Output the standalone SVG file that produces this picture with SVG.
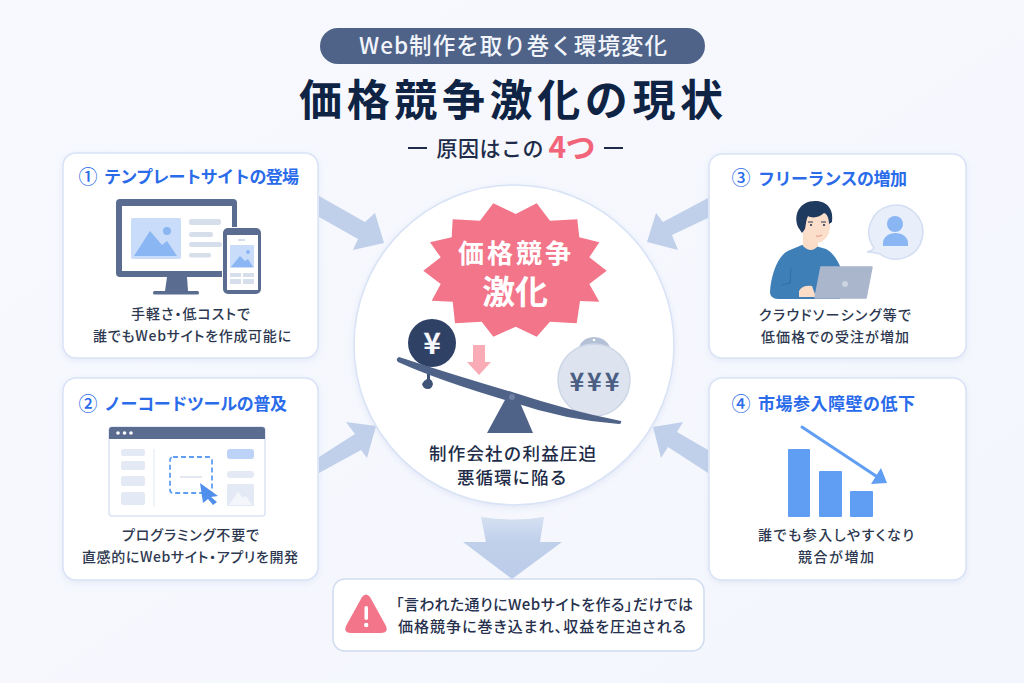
<svg xmlns="http://www.w3.org/2000/svg" width="1024" height="683" viewBox="0 0 1024 683">
<style>
text{font-family:"Noto Sans CJK JP","Noto Sans",sans-serif;text-anchor:middle}
.card{fill:#fff;stroke:#d9e3f6;stroke-width:1.5;filter:url(#sh)}
.h{font-size:17px;font-weight:700;fill:#2a6bea}
.n{font-size:19px;font-weight:500;fill:#2a6bea}
.d{font-size:14px;font-weight:500;fill:#2d3850;font-feature-settings:"palt"}
.c{font-size:17.5px;font-weight:500;fill:#222c48}
.w{font-size:15px;font-weight:500;fill:#262f4c;font-feature-settings:"palt"}
.ar{fill:#c0d0ea}
.slate{fill:#5a6d90}
.lb{fill:#c9dcfa}
.mb{fill:#8ab6f3}
.gl{fill:#d6deeb}
.pl{fill:#e4eaf5}
.bar{fill:#5f9ef2}
</style>
<defs>
<linearGradient id="bg" x1="0" y1="0" x2="1" y2="1"><stop offset="0" stop-color="#f7f9fe"/><stop offset="1" stop-color="#f4f6fd"/></linearGradient>
<linearGradient id="da" x1="0" y1="0" x2="0" y2="1"><stop offset="0" stop-color="#d6e0f2"/><stop offset=".4" stop-color="#c0d0ea"/><stop offset="1" stop-color="#bccdea"/></linearGradient>
<filter id="sh" x="-10%" y="-10%" width="120%" height="125%"><feDropShadow dx="0" dy="2" stdDeviation="3" flood-color="#b8c6e4" flood-opacity=".3"/></filter>
</defs>
<rect width="1024" height="683" fill="url(#bg)"/>

<g id="header">
<rect x="320" y="28" width="385" height="36" rx="18" fill="#4f6389"/>
<text x="513" y="54" font-size="22.5" font-weight="500" fill="#f2f5fb" textLength="308">Web制作を取り巻く環境変化</text>
<text x="511" y="116" font-size="43" font-weight="700" fill="#0f2444" textLength="424">価格競争激化の現状</text>
<rect x="408" y="147" width="19" height="2" fill="#1e2c4a"/>
<text x="490" y="156" font-size="21" font-weight="500" fill="#1e2c4a" textLength="107">原因はこの</text>
<text x="572" y="158" font-size="30" font-weight="700" fill="#f2647a" textLength="47">4つ</text>
<rect x="604" y="147" width="19" height="2" fill="#1e2c4a"/>
</g>

<g id="connectors">
<polygon class="ar" points="319,196 365,222 375,213 384,243 353,250 358,239 319,217"/>
<polygon class="ar" points="319,457 355,434 346,422 376,426 367,458 361,450 319,473"/>
<polygon class="ar" points="708,198 663,222 656,213 647,242 678,250 672,235 708,218"/>
<polygon class="ar" points="708,450 677,432 683,422 653,427 661,458 668,447 708,473"/>
<path fill="url(#da)" d="M481,517Q512,522 544,517L540,542H562L512,579L463,542H486Z"/>
</g>

<g id="card1">
<rect class="card" x="63" y="153" width="255" height="205" rx="13"/>
<text class="n" x="88" y="184">①</text>
<text class="h" x="201.500" y="183" textLength="195">テンプレートサイトの登場</text>
<rect class="slate" x="116" y="199" width="121" height="78" rx="4"/>
<rect x="122" y="206" width="110" height="65" fill="#fff"/>
<polygon class="slate" points="167,277 187,277 188,291 165,291"/>
<rect class="slate" x="153" y="291" width="46" height="3.500" rx="1.500"/>
<rect class="lb" x="131" y="218" width="50" height="41" rx="2"/>
<circle class="mb" cx="167" cy="231" r="4"/>
<polygon class="mb" points="134,256 150,231 162,245 167,241 177,256"/>
<rect class="gl" x="189" y="219" width="32" height="6" rx="2.500"/>
<rect class="gl" x="189" y="232" width="24" height="5" rx="2.500"/>
<rect class="gl" x="189" y="242" width="33" height="5" rx="2.500"/>
<rect class="gl" x="189" y="253" width="22" height="4.500" rx="2.200"/>
<rect x="222" y="227" width="40" height="68" rx="6" fill="#fff"/>
<rect class="slate" x="223" y="228" width="38" height="66" rx="5"/>
<rect x="227" y="235" width="31" height="55" fill="#fff"/>
<rect class="gl" x="238" y="239" width="7" height="2"/>
<rect class="lb" x="230" y="245" width="24" height="23" rx="1"/>
<circle class="mb" cx="248" cy="252" r="2"/>
<polygon class="mb" points="231,267 240,256 245,261 248,259 253,267"/>
<rect class="gl" x="230" y="273" width="11" height="4"/>
<rect class="gl" x="243" y="273" width="11" height="4"/>
<rect class="gl" x="230" y="279" width="11" height="5"/>
<rect class="gl" x="243" y="279" width="11" height="5"/>
<text class="d" x="190.500" y="319" textLength="119">手軽さ・低コストで</text>
<text class="d" x="192" y="341" textLength="198">誰でもWebサイトを作成可能に</text>
</g>

<g id="card2">
<rect class="card" x="63" y="378" width="255" height="202" rx="13"/>
<text class="n" x="88" y="411">②</text>
<text class="h" x="195.500" y="410" textLength="183">ノーコードツールの普及</text>
<rect x="109" y="427" width="156" height="89" rx="3" fill="#fff" stroke="#dbe3f3" stroke-width="1.500"/>
<path class="slate" d="M109,439V430a3,3 0 0 1 3-3H262a3,3 0 0 1 3,3V439Z"/>
<circle cx="118" cy="433" r="1.800" fill="#fff"/><circle cx="124.500" cy="433" r="1.800" fill="#fff"/><circle cx="131" cy="433" r="1.800" fill="#fff"/>
<rect class="pl" x="121" y="449" width="24" height="7" rx="2"/>
<rect class="pl" x="121" y="461" width="24" height="9" rx="2"/>
<rect class="pl" x="121" y="476" width="24" height="10" rx="2"/>
<rect class="pl" x="121" y="492" width="24" height="13" rx="2"/>
<line x1="154" y1="449" x2="154" y2="506" stroke="#e6ebf5" stroke-width="1.200"/>
<rect x="170" y="457" width="42" height="36" rx="3" fill="none" stroke="#5f9ef2" stroke-width="1.800" stroke-dasharray="5 3"/>
<line x1="180" y1="477" x2="202" y2="477" stroke="#d0d7e4" stroke-width="1.200"/>
<polygon fill="#5090ec" points="200,483 218,496 211,497 217,502 213,505 208,499 203,503"/>
<rect x="227" y="449" width="27" height="10" rx="3" fill="#bcd3f7"/>
<rect class="pl" x="227" y="471" width="27" height="7" rx="3"/>
<rect class="pl" x="227" y="484" width="27" height="22" rx="1"/>
<polygon points="229,505 238,492 243,498 246,496 252,505" fill="#f4f6fb"/>
<text class="d" x="190.500" y="540" textLength="137">プログラミング不要で</text>
<text class="d" x="190" y="562" textLength="216">直感的にWebサイト・アプリを開発</text>
</g>

<g id="card3">
<rect class="card" x="709" y="154" width="257" height="204" rx="13"/>
<text class="n" x="741" y="185">③</text>
<text class="h" x="832.500" y="185" textLength="149">フリーランスの増加</text>
<path fill="#3f7fb8" d="M770,292C771,275 778,254 790,250L802,245H812L826,249C834,253 838,262 842,270L840,299H778C773,299 770,296 770,292Z"/>
<path d="M782,285L790,283M791,268L790,284" stroke="#2f6aa0" stroke-width=".8" fill="none"/>
<path fill="#fadcc7" d="M803,232H818V246Q811,254 803,246Z"/>
<ellipse cx="816" cy="226" rx="14" ry="17" fill="#fbdfcb"/>
<path fill="#1f3a5f" d="M798,227C793,214 800,201 815,201C826,201 834,208 832,222L829,224C829,218 827,214 824,213C820,217 813,219 808,216C806,220 806,224 805,229L802,233Z"/>
<path d="M808,222H813M821,222H826" stroke="#2a3550" stroke-width="1"/>
<circle cx="811" cy="225" r="1.100" fill="#2a3550"/><circle cx="824" cy="225" r="1.100" fill="#2a3550"/>
<path d="M816,236Q819,237 822,235" stroke="#e89a80" stroke-width="1" fill="none"/>
<path fill="#fadcc7" d="M799,291Q802,285 812,286L816,297H799Z"/>
<polygon fill="#aab6cc" stroke="#aab6cc" stroke-width="1.500" stroke-linejoin="round" points="821,267 872,267 866,298 815,298"/>
<circle cx="845" cy="284" r="3" fill="#ccd4e2"/>
<path fill="#e8eefa" stroke="#d3def3" stroke-width="1.500" d="M874,248A27,27 0 1 1 880,254Q873,252 867,252Q872,251 874,248Z"/>
<circle class="mb" cx="895" cy="224" r="8"/>
<path class="mb" d="M883,246V243C883,237 889,233 895.500,233C902,233 908,237 908,243V246Z"/>
<text class="d" x="835" y="320" textLength="152">クラウドソーシング等で</text>
<text class="d" x="835" y="342" textLength="148">低価格での受注が増加</text>
</g>

<g id="card4">
<rect class="card" x="709" y="378" width="257" height="202" rx="13"/>
<text class="n" x="741" y="411">④</text>
<text class="h" x="836.500" y="410" textLength="157">市場参入障壁の低下</text>
<rect class="bar" x="788" y="449" width="22" height="68" rx="1"/>
<rect class="bar" x="819" y="471" width="23" height="46" rx="1"/>
<rect class="bar" x="850" y="491" width="23" height="26" rx="1"/>
<line x1="802" y1="427" x2="882" y2="480" stroke="#5f9ef2" stroke-width="3" stroke-linecap="round"/>
<polygon fill="#5f9ef2" points="881,468 887,483 871,484"/>
<text class="d" x="836" y="540" textLength="156">誰でも参入しやすくなり</text>
<text class="d" x="836" y="562" textLength="76">競合が増加</text>
</g>

<g id="center">
<circle cx="514" cy="345" r="160" fill="#fff" stroke="#d9e3f6" stroke-width="1.500" filter="url(#sh)"/>
<polygon fill="#f2758a" points="493.300,203.300 515.700,214 536.700,203.300 550,220.700 577.300,219.300 579.300,237.300 599.300,242.300 589.300,257.300 606.700,270.700 589.300,284 599.300,301.700 580,301 576.700,323.300 550,321.700 536.700,336.700 515.700,326.700 493.300,336.700 481.700,321.700 455,323.300 452.700,301.700 431.700,300.700 440.700,284 423.300,270.700 440.700,257.300 430,242.300 451.700,237.300 452.700,219.300 480,220.700"/>
<text x="514.500" y="263" font-size="26" font-weight="700" fill="#fff" textLength="113">価格競争</text>
<text x="515" y="304" font-size="33" font-weight="700" fill="#fff" textLength="66">激化</text>
<circle cx="432" cy="343" r="24" fill="#2f4266"/>
<text x="432" y="354" font-size="30" font-weight="700" fill="#f4f6fb">¥</text>
<polygon fill="#f9abb6" points="473,345 485,345 485,362 491,362 479,375 467,362 473,362"/>
<path fill="#3f5278" d="M427,366H430V379Q433,381 433,384Q432,389 428,389Q423,389 422,384Q423,381 427,379Z"/>
<path fill="#b4c0d6" d="M579,347Q583,337 594,337Q605,337 610,347Z"/>
<circle cx="594" cy="340" r="1.300" fill="#fff"/>
<circle cx="594" cy="380" r="36" fill="#dde3ef" stroke="#cdd6e6" stroke-width="1.500"/>
<text x="594.500" y="391" font-size="25" font-weight="700" fill="#4a5d82" textLength="50">¥¥¥</text>
<polygon fill="#4f6288" points="487,433 533,433 518,398 506,398"/>
<path fill="#4f6288" d="M399,357Q460,377 512,392Q570,411 621,421Q622,424 619,424Q565,420 512,402Q440,381 398,362Q395,359 399,357Z"/>
<circle cx="512" cy="397" r="3" fill="#6f80a3"/>
<text class="c" x="512.500" y="460" textLength="167">制作会社の利益圧迫</text>
<text class="c" x="512" y="484" textLength="110">悪循環に陥る</text>
</g>

<g id="warning">
<rect x="333" y="579" width="371" height="72" rx="12" fill="#fff" stroke="#cfdbf0" stroke-width="1.500"/>
<path fill="#f2758a" d="M362,597Q366,592 370,597L386,626Q389,633 381,633H351Q343,633 346,626Z"/>
<rect x="364.500" y="606" width="3.500" height="14" rx="1.700" fill="#fff"/>
<circle cx="366.200" cy="625" r="2.200" fill="#fff"/>
<text class="w" x="544.500" y="610" textLength="297">「言われた通りにWebサイトを作る」だけでは</text>
<text class="w" x="542" y="632" textLength="288">価格競争に巻き込まれ、収益を圧迫される</text>
</g>
</svg>
